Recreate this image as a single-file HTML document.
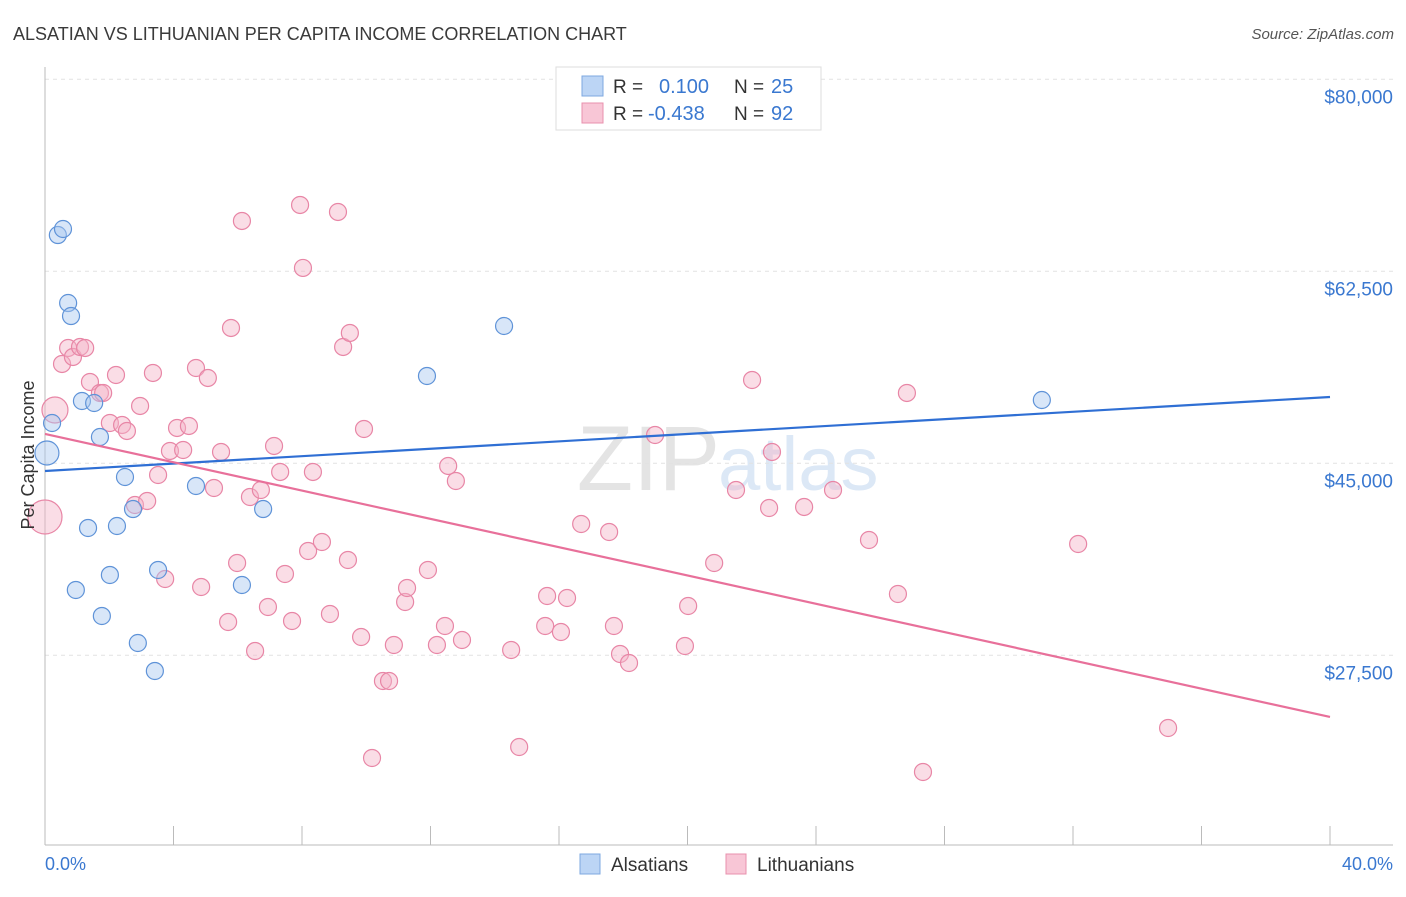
<!DOCTYPE html>
<html><head><meta charset="utf-8"><style>
body{margin:0;background:#fff;font-family:"Liberation Sans",sans-serif}
svg text{font-family:"Liberation Sans",sans-serif}
</style></head><body>
<svg id="c" width="1406" height="892" xmlns="http://www.w3.org/2000/svg">
<text x="13" y="40" font-size="18" fill="#3a3a3a">ALSATIAN VS LITHUANIAN PER CAPITA INCOME CORRELATION CHART</text>
<text x="1394" y="39" font-size="15" fill="#555" text-anchor="end" font-style="italic">Source: ZipAtlas.com</text>
<text x="720" y="490" font-size="92" fill="#e4e4e4" text-anchor="end" font-family="Liberation Serif">ZIP</text>
<text x="718" y="490" font-size="76" fill="#dce8f6">atlas</text>
<g id="grid"></g>
<g id="axes"></g>
<g id="marks"></g>
<text transform="translate(34,455) rotate(-90)" font-size="18" fill="#333" text-anchor="middle">Per Capita Income</text>
<text x="45" y="870" font-size="18" fill="#3a78d0">0.0%</text>
<text x="1393" y="870" font-size="18" fill="#3a78d0" text-anchor="end">40.0%</text>
<g>
<rect x="556" y="67" width="265" height="63" fill="#fff" stroke="#ddd"/>
<rect x="582" y="76" width="21" height="20" fill="#bcd5f5" stroke="#7ea8e0"/>
<rect x="582" y="103" width="21" height="20" fill="#f8c6d6" stroke="#e890ad"/>
<text x="613" y="93" font-size="19" fill="#333">R =</text>
<text x="659" y="93" font-size="20" fill="#3a78d0">0.100</text>
<text x="734" y="93" font-size="19" fill="#333">N =</text>
<text x="771" y="93" font-size="20" fill="#3a78d0">25</text>
<text x="613" y="120" font-size="19" fill="#333">R =</text>
<text x="648" y="120" font-size="20" fill="#3a78d0">-0.438</text>
<text x="734" y="120" font-size="19" fill="#333">N =</text>
<text x="771" y="120" font-size="20" fill="#3a78d0">92</text>
</g>
<g>
<rect x="580" y="854" width="20" height="20" fill="#bcd5f5" stroke="#7ea8e0"/>
<text x="611" y="871" font-size="19" fill="#333">Alsatians</text>
<rect x="726" y="854" width="20" height="20" fill="#f8c6d6" stroke="#e890ad"/>
<text x="757" y="871" font-size="19" fill="#333">Lithuanians</text>
</g>
</svg>
<script>
const yTicks=[80000,62500,45000,27500];
const yTickLabels=["$80,000","$62,500","$45,000","$27,500"];
const xTicks=[0,4,8,12,16,20,24,28,32,36,40];
const alsX=[0.06,0.22,0.40,0.56,0.72,0.81,1.15,1.53,1.71,1.34,2.24,2.49,2.74,0.96,2.02,1.77,2.89,3.42,3.52,4.70,6.13,6.79,11.89,14.29,31.03];
const alsY=[45938,48672,65807,66354,59609,58424,50677,50495,47396,39102,39284,43750,40833,33451,34818,31081,28620,26068,35274,42930,33906,40833,52956,57513,50768];
const lithX=[0.0,0.31,0.53,0.72,0.87,1.09,1.25,1.40,1.71,1.81,2.02,2.21,2.40,2.55,2.80,2.96,3.18,3.36,3.52,3.74,3.89,4.11,4.30,4.48,4.70,4.86,5.07,5.26,5.48,5.70,5.79,5.98,6.13,6.38,6.54,6.72,6.94,7.13,7.32,7.47,7.69,7.94,8.03,8.19,8.34,8.62,8.87,9.12,9.28,9.43,9.49,9.84,9.93,10.18,10.52,10.71,10.86,11.21,11.27,11.92,12.20,12.45,12.55,12.79,12.98,14.51,14.76,15.57,15.63,16.06,16.25,16.69,17.56,17.71,17.90,18.18,18.99,19.92,20.02,20.83,21.51,22.01,22.54,22.63,23.63,24.53,25.65,26.55,26.83,27.33,32.16,34.96];
const lithY=[40106,49859,54052,55510,54690,55602,55510,52411,51409,51409,48674,53049,48492,47945,41200,50224,41564,53232,43934,34455,46122,48219,46213,48401,53687,33725,52776,42749,46031,30535,57333,35913,67086,41929,27892,42567,31903,46578,44208,34910,30626,68545,62803,37007,44208,37827,31265,67907,55602,36187,56878,29168,48127,18139,25157,25157,28439,32358,33634,35275,28439,30171,44755,43387,28895,27983,19142,30171,32905,29624,32723,39468,38739,30171,27619,26798,47580,28348,31994,35913,42567,52593,40926,46031,41018,42567,38009,33087,51409,16863,37645,20873];
const alsTrend=[44299,51044];
const lithTrend=[47671,21878];
const NS="http://www.w3.org/2000/svg";
const X=v=>45+v/40*1285;
const Y=v=>957-v/17500*192;
function mk(t,a,p){const e=document.createElementNS(NS,t);for(const k in a)e.setAttribute(k,a[k]);p.appendChild(e);return e;}
const grid=document.getElementById('grid'),axes=document.getElementById('axes'),marks=document.getElementById('marks');
yTicks.forEach((v,i)=>{
 const l=mk('line',{x1:45,x2:1393,y1:Y(v),y2:Y(v),stroke:'#e2e2e2','stroke-dasharray':'4,4'},grid);
 
 
 const t=mk('text',{x:1393,y:Y(v)+24,'font-size':19,fill:'#3a78d0','text-anchor':'end'},axes);
 t.textContent=yTickLabels[i];
 
 
});
const ax=mk('line',{x1:45,x2:1393,y1:845,y2:845,stroke:'#bbb'},axes);


const ay=mk('line',{x1:45,x2:45,y1:67,y2:845,stroke:'#bbb'},axes);


xTicks.forEach(v=>{
 const t=mk('line',{x1:X(v),x2:X(v),y1:826,y2:845,stroke:'#bbb'},axes);
 
 
});
function dots(xs,ys,fill,stroke,name,big){
 xs.forEach((x,i)=>{
  const r=big[i]||8.5;
  const c=mk('circle',{cx:X(x),cy:Y(ys[i]),r:r,fill:fill,'fill-opacity':0.45,stroke:stroke,'stroke-width':1.2},marks);
  
  
 });
}
dots(lithX,lithY,'#f5b3c8','#e886a6','lithuanian-point',{0:17,1:13});
dots(alsX,alsY,'#a8c7f0','#5f93d8','alsatian-point',{0:12});
const lb=mk('line',{x1:X(0),y1:Y(alsTrend[0]),x2:X(40),y2:Y(alsTrend[1]),stroke:'#2f6fd4','stroke-width':2.2},marks);


const lp=mk('line',{x1:X(0),y1:Y(lithTrend[0]),x2:X(40),y2:Y(lithTrend[1]),stroke:'#e8709a','stroke-width':2.2},marks);


</script>
</body></html>
